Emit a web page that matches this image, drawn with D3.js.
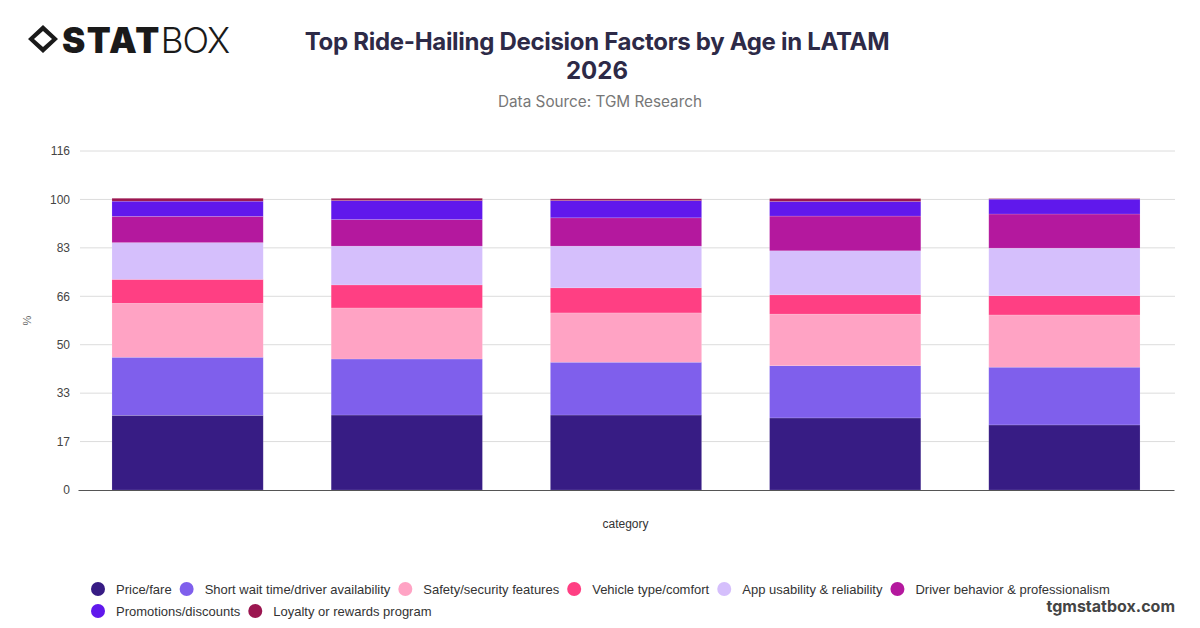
<!DOCTYPE html>
<html>
<head>
<meta charset="utf-8">
<script src="https://cdn.jsdelivr.net/npm/d3@7"></script>
<style>
  body { margin: 0; background: #fff; }
  svg { display: block; font-family: "Liberation Sans", Arial, sans-serif; }
</style>
</head>
<body>
<script>
// data
var categories = ["18-24", "25-34", "35-44", "45-54", "55+"];
var factors = ["Price/fare", "Short wait time/driver availability", "Safety/security features",
  "Vehicle type/comfort", "App usability & reliability", "Driver behavior & professionalism",
  "Promotions/discounts", "Loyalty or rewards program"];
var colors = ["#371c84", "#7f5fec", "#ffa3c4", "#ff3f83", "#d5bffc", "#b4189e", "#6018ec", "#9b1650"];

var priceFare    = [25.6, 25.7, 25.7, 24.7, 22.3];
var shortWait    = [19.9, 19.2, 18.1, 17.9, 19.8];
var safety       = [18.5, 17.5, 16.9, 17.7, 17.9];
var vehicleType  = [8.2, 7.9, 8.6, 6.6, 6.6];
var appUsability = [12.6, 13.3, 14.3, 15.1, 16.3];
var driverBehav  = [9.0, 9.1, 9.7, 11.9, 11.7];
var promotions   = [5.2, 6.5, 5.9, 5.0, 5.1];
var loyalty      = [1.0, 0.8, 0.6, 1.0, 0.2];

var yMax = 116.2;
var yTickLabels = ["0", "17", "33", "50", "66", "83", "100", "116"];

var series = [priceFare, shortWait, safety, vehicleType, appUsability, driverBehav, promotions, loyalty];

// table for d3.stack
var table = categories.map(function(c, i) {
  var row = { category: c };
  factors.forEach(function(f, j) { row[f] = series[j][i]; });
  return row;
});

var W = 1200, H = 628;
var margin = {top: 151, right: 25, bottom: 138, left: 80},
    width = W - margin.left - margin.right,
    height = H - margin.top - margin.bottom;

var svg = d3.select("body").append("svg")
    .attr("width", W)
    .attr("height", H);

// logo
var logo = svg.append("g").attr("transform", "translate(27,25)");
logo.append("path")
  .attr("d", "M16,0 L31,14 L16,28 L1,14 Z M16,6 L25,14 L16,22 L7,14 Z")
  .attr("fill", "#1a1a1a").attr("fill-rule", "evenodd");
logo.append("text")
  .attr("x", 35).attr("y", 28)
  .style("font-family", "Inter, sans-serif")
  .style("font-size", "35px")
  .attr("fill", "#1a1a1a")
  .call(function(t) {
    t.append("tspan").style("font-weight", 900).attr("letter-spacing", "1.5").text("STAT");
    t.append("tspan").style("font-weight", 300).attr("letter-spacing", "-1").text("BOX");
  });

// titles
svg.append("text")
  .attr("x", 597).attr("y", 50)
  .attr("text-anchor", "middle")
  .style("font-family", "Inter, sans-serif")
  .style("font-size", "24px").style("font-weight", 700)
  .attr("fill", "#2d2a47")
  .attr("letter-spacing", "-0.3")
  .text("Top Ride-Hailing Decision Factors by Age in LATAM");
svg.append("text")
  .attr("x", 597).attr("y", 79)
  .attr("text-anchor", "middle")
  .style("font-family", "Inter, sans-serif")
  .style("font-size", "24px").style("font-weight", 700)
  .attr("fill", "#2d2a47")
  .text("2026");
svg.append("text")
  .attr("x", 600).attr("y", 107)
  .attr("text-anchor", "middle")
  .style("font-family", "Inter, sans-serif")
  .style("font-size", "15.3px")
  .attr("fill", "#777")
  .text("Data Source: TGM Research");

var g = svg.append("g")
  .attr("transform", "translate(" + margin.left + "," + margin.top + ")");

var x = d3.scaleBand()
  .domain(categories)
  .range([-2, width - 1])
  .paddingInner(0.31)
  .paddingOuter(0.155);

var y = d3.scaleLinear()
  .domain([0, yMax])
  .range([height, 0]);

var tickVals = yTickLabels.map(function(d, i) { return yMax * i / (yTickLabels.length - 1); });

// grid
g.append("g")
  .selectAll("line")
  .data(tickVals.slice(1))
  .join("line")
    .attr("x1", 0).attr("x2", width)
    .attr("y1", function(d) { return y(d); })
    .attr("y2", function(d) { return y(d); })
    .attr("stroke", "#dcdcdc");

// y axis labels
var yAxis = g.append("g")
  .call(d3.axisLeft(y).tickValues(tickVals).tickSize(0).tickPadding(10)
    .tickFormat(function(d, i) { return yTickLabels[i]; }));
yAxis.select(".domain").remove();
yAxis.selectAll("text")
  .style("font-family", "'Liberation Sans', Arial, sans-serif")
  .style("font-size", "12px")
  .attr("fill", "#444");

// bars
var stack = d3.stack().keys(factors)(table);
g.append("g")
  .selectAll("g")
  .data(stack)
  .join("g")
    .attr("fill", function(d, i) { return colors[i]; })
  .selectAll("rect")
  .data(function(d) { return d; })
  .join("rect")
    .attr("x", function(d) { return x(d.data.category); })
    .attr("y", function(d) { return y(d[1]); })
    .attr("height", function(d) { return y(d[0]) - y(d[1]); })
    .attr("width", x.bandwidth())
    .attr("stroke", "#fff")
    .attr("stroke-opacity", 0.25)
    .attr("stroke-width", 0.6);

// x axis
var xAxis = g.append("g")
  .attr("transform", "translate(0," + height + ")")
  .call(d3.axisBottom(x).tickSize(0).tickFormat(""));
xAxis.select(".domain").attr("stroke", "#555").attr("stroke-width", 1.2);

g.append("text")
  .attr("x", width / 2 - 2).attr("y", height + 38)
  .attr("text-anchor", "middle")
  .style("font-size", "12px")
  .attr("fill", "#333")
  .text("category");

svg.append("text")
  .attr("transform", "translate(31," + (margin.top + height / 2) + ") rotate(-90)")
  .attr("text-anchor", "middle")
  .style("font-size", "11px")
  .attr("fill", "#666")
  .text("%");

// legend
var legend = svg.append("g");
var lx = 98, ly = 589;
factors.forEach(function(f, i) {
  var item = legend.append("g");
  item.append("circle").attr("r", 7).attr("fill", colors[i]);
  var t = item.append("text")
    .attr("x", 18).attr("y", 4.5)
    .style("font-size", "13px")
    .attr("fill", "#333")
    .text(f);
  var w = t.node().getComputedTextLength();
  if (lx + 18 + w > 1120) { lx = 98; ly += 22; }
  item.attr("transform", "translate(" + lx + "," + ly + ")");
  lx += 18 + w + 15;
});

svg.append("text")
  .attr("x", 1175).attr("y", 612)
  .attr("text-anchor", "end")
  .style("font-family", "Inter, sans-serif")
  .style("font-size", "16px").style("font-weight", 700)
  .attr("fill", "#444")
  .text("tgmstatbox.com");
</script>
</body>
</html>
